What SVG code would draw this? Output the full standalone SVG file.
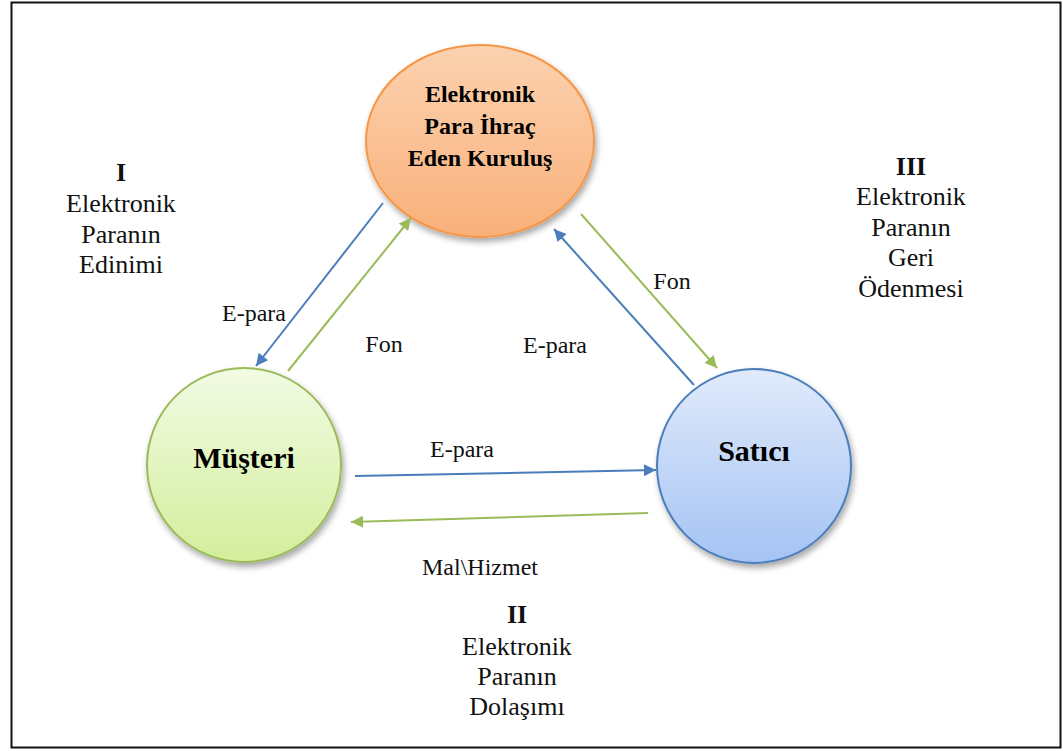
<svg xmlns="http://www.w3.org/2000/svg" width="1063" height="751" viewBox="0 0 1063 751">
  <defs>
    <linearGradient id="gOrange" x1="0" y1="0" x2="0" y2="1">
      <stop offset="0" stop-color="#fcd2b0"/>
      <stop offset="1" stop-color="#f9b07a"/>
    </linearGradient>
    <linearGradient id="gGreen" x1="0" y1="0" x2="0" y2="1">
      <stop offset="0" stop-color="#f2fbe4"/>
      <stop offset="1" stop-color="#d3ee9c"/>
    </linearGradient>
    <linearGradient id="gBlue" x1="0" y1="0" x2="0" y2="1">
      <stop offset="0" stop-color="#e0eafb"/>
      <stop offset="1" stop-color="#a5c3f4"/>
    </linearGradient>
    <filter id="shadow" x="-20%" y="-20%" width="140%" height="140%">
      <feGaussianBlur in="SourceAlpha" stdDeviation="3"/>
      <feOffset dx="2" dy="4" result="b"/>
      <feComponentTransfer><feFuncA type="linear" slope="0.35"/></feComponentTransfer>
      <feMerge><feMergeNode/><feMergeNode in="SourceGraphic"/></feMerge>
    </filter>
    <marker id="arrBlue" viewBox="0 0 10 10" refX="10" refY="5" markerWidth="7" markerHeight="6" markerUnits="strokeWidth" orient="auto">
      <path d="M0,0 L10,5 L0,10 Z" fill="#4a7ebb"/>
    </marker>
    <marker id="arrGreen" viewBox="0 0 10 10" refX="10" refY="5" markerWidth="7" markerHeight="6" markerUnits="strokeWidth" orient="auto">
      <path d="M0,0 L10,5 L0,10 Z" fill="#9bbb59"/>
    </marker>
  </defs>
  <style>
    text { font-family: 'Liberation Serif', serif; fill: #111; text-anchor: middle; }
    .lbl { font-size: 26px; }
    .sm { font-size: 24px; }
    .b { font-weight: bold; }
    .node { font-weight: bold; fill: #000; }
    .cb { stroke: #4a7ebb; stroke-width: 2; fill: none; marker-end: url(#arrBlue); }
    .cg { stroke: #9bbb59; stroke-width: 2; fill: none; marker-end: url(#arrGreen); }
  </style>

  <rect x="0" y="0" width="1063" height="751" fill="#ffffff"/>
  <!-- page frame -->
  <rect x="11.5" y="2.5" width="1049" height="745" fill="none" stroke="#111" stroke-width="2"/>

  <!-- issuer -->
  <g id="issuer">
    <ellipse cx="480" cy="141" rx="114" ry="96" fill="url(#gOrange)" stroke="#f79646" stroke-width="2" filter="url(#shadow)"/>
    <text class="node" font-size="24" x="480" y="102">Elektronik</text>
    <text class="node" font-size="24" x="480" y="134">Para İhraç</text>
    <text class="node" font-size="24" x="480" y="166">Eden Kuruluş</text>
  </g>

  <!-- customer -->
  <g id="customer">
    <circle cx="244" cy="465" r="97" fill="url(#gGreen)" stroke="#9bbb59" stroke-width="2" filter="url(#shadow)"/>
    <text class="node" font-size="30" x="244" y="468">Müşteri</text>
  </g>

  <!-- merchant -->
  <g id="merchant">
    <circle cx="754" cy="466" r="97" fill="url(#gBlue)" stroke="#4a7ebb" stroke-width="2" filter="url(#shadow)"/>
    <text class="node" font-size="30" x="754" y="461">Satıcı</text>
  </g>

  <!-- flows -->
  <g id="connectors">
    <line class="cb" x1="383" y1="203" x2="256" y2="366"/>
    <line class="cg" x1="288" y1="371" x2="411" y2="218"/>
    <line class="cg" x1="581" y1="214" x2="717" y2="368"/>
    <line class="cb" x1="694" y1="385" x2="554" y2="229"/>
    <line class="cb" x1="355" y1="476" x2="656" y2="470"/>
    <line class="cg" x1="648" y1="513" x2="351" y2="522"/>
  </g>

  <!-- flow labels -->
  <g id="flow-labels">
    <text class="sm" x="254" y="321">E-para</text>
    <text class="sm" x="384" y="352">Fon</text>
    <text class="sm" x="672" y="289">Fon</text>
    <text class="sm" x="555" y="353">E-para</text>
    <text class="sm" x="462" y="457">E-para</text>
    <text class="sm" x="480" y="575">Mal\Hizmet</text>
  </g>

  <!-- phase captions -->
  <g id="phase-1">
    <text class="lbl b" x="121" y="181">I</text>
    <text class="lbl" x="121" y="212">Elektronik</text>
    <text class="lbl" x="121" y="243">Paranın</text>
    <text class="lbl" x="121" y="273">Edinimi</text>
  </g>
  <g id="phase-2">
    <text class="lbl b" x="517" y="623">II</text>
    <text class="lbl" x="517" y="655">Elektronik</text>
    <text class="lbl" x="517" y="685">Paranın</text>
    <text class="lbl" x="517" y="715">Dolaşımı</text>
  </g>
  <g id="phase-3">
    <text class="lbl b" x="911" y="175">III</text>
    <text class="lbl" x="911" y="205">Elektronik</text>
    <text class="lbl" x="911" y="236">Paranın</text>
    <text class="lbl" x="911" y="266">Geri</text>
    <text class="lbl" x="911" y="297">Ödenmesi</text>
  </g>
</svg>
